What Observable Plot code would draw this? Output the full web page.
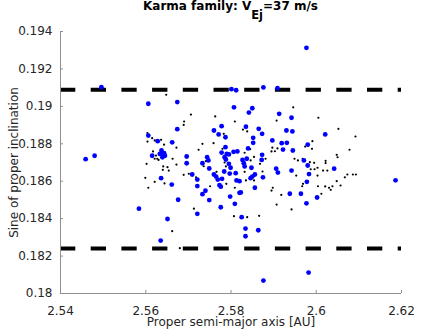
<!DOCTYPE html>
<html>
<head>
<meta charset="utf-8">
<script src="https://cdn.jsdelivr.net/npm/d3@7"></script>
<script src="https://cdn.jsdelivr.net/npm/@observablehq/plot@0.6"></script>
<style>
  html, body { margin: 0; padding: 0; background: white; }
  #wrap { position: relative; width: 443px; height: 332px; overflow: hidden; }
  #title { position: absolute; left: 0; top: 0; width: 461px; text-align: center;
    font-family: "DejaVu Sans", sans-serif; font-weight: bold; font-size: 12px; line-height: 12px; color: #000; white-space: nowrap; }
  #title .sub { position: relative; top: 9px; font-size: 11.5px; }
</style>
</head>
<body>
<div id="wrap">
  <div id="chart"></div>
  <div id="title">Karma family: V<span class="sub">Ej</span>=37 m/s</div>
</div>
<script>
// ---- data (proper semi-major axis [AU], sine of proper inclination) ----
const titleText = "Karma family: V_Ej=37 m/s";
const xLabel = "Proper semi-major axis [AU]";
const yLabel = "Sine of proper inclination";

const xDomain = [2.54, 2.62];
const yDomain = [0.18, 0.194];
const xTicks = [2.54, 2.56, 2.58, 2.60, 2.62];
const xTickLabels = ["2.54", "2.56", "2.58", "2.6", "2.62"];
const yTicks = [0.18, 0.182, 0.184, 0.186, 0.188, 0.19, 0.192, 0.194];
const yTickLabels = ["0.18", "0.182", "0.184", "0.186", "0.188", "0.19", "0.192", "0.194"];

// family boundaries in sin(i)
const limits = [0.19089, 0.18240];

// family members (blue)
const bluePoints = [
  [2.5459, 0.18718], [2.5480, 0.18736], [2.5496, 0.19102], [2.5584, 0.18453],
  [2.5606, 0.19014], [2.5606, 0.18844], [2.5615, 0.18736], [2.5628, 0.18814],
  [2.5633, 0.18746], [2.5635, 0.18283], [2.5636, 0.18616], [2.5637, 0.18764],
  [2.5639, 0.18728], [2.5643, 0.18750], [2.5645, 0.18736], [2.5651, 0.18398],
  [2.5661, 0.18582], [2.5662, 0.18808], [2.5674, 0.19023], [2.5674, 0.18878],
  [2.5676, 0.18501], [2.5696, 0.18732], [2.5696, 0.18696], [2.5709, 0.18636],
  [2.5721, 0.18609], [2.5721, 0.18574], [2.5721, 0.18426], [2.5733, 0.18696],
  [2.5733, 0.18531], [2.5740, 0.18549], [2.5744, 0.18728], [2.5747, 0.18711],
  [2.5749, 0.18668], [2.5749, 0.18499], [2.5760, 0.18871], [2.5771, 0.18850],
  [2.5778, 0.18894], [2.5787, 0.18835], [2.5787, 0.18782], [2.5778, 0.18753],
  [2.5790, 0.18746], [2.5795, 0.18743], [2.5806, 0.18757], [2.5815, 0.18759],
  [2.5785, 0.18728], [2.5788, 0.18716], [2.5795, 0.18693], [2.5799, 0.18672],
  [2.5760, 0.18636], [2.5765, 0.18625], [2.5779, 0.18613], [2.5769, 0.18609],
  [2.5784, 0.18652], [2.5797, 0.18641], [2.5811, 0.18643], [2.5813, 0.18604],
  [2.5820, 0.18600], [2.5773, 0.18579], [2.5776, 0.18571], [2.5798, 0.18518],
  [2.5776, 0.18461], [2.5809, 0.18479], [2.5820, 0.18538], [2.5807, 0.18995],
  [2.5801, 0.19092], [2.5812, 0.19086], [2.5825, 0.18408], [2.5834, 0.18347],
  [2.5834, 0.18306], [2.5864, 0.18338], [2.5876, 0.18069], [2.5827, 0.18714],
  [2.5830, 0.18696], [2.5832, 0.18679], [2.5837, 0.18720], [2.5840, 0.18775],
  [2.5835, 0.18891], [2.5842, 0.18967], [2.5850, 0.18990], [2.5865, 0.18880],
  [2.5873, 0.18853], [2.5852, 0.18832], [2.5852, 0.18805], [2.5873, 0.18741],
  [2.5872, 0.18714], [2.5848, 0.18672], [2.5856, 0.18636], [2.5850, 0.18625],
  [2.5846, 0.18616], [2.5875, 0.18621], [2.5856, 0.18565], [2.5823, 0.18540],
  [2.5876, 0.19101], [2.5897, 0.18818], [2.5913, 0.18960], [2.5942, 0.18939],
  [2.5930, 0.18871], [2.5944, 0.18866], [2.5919, 0.18803], [2.5931, 0.18805],
  [2.5922, 0.18769], [2.5945, 0.18764], [2.5906, 0.18667], [2.5910, 0.18646],
  [2.5942, 0.18657], [2.5938, 0.18533], [2.5964, 0.18533], [2.5909, 0.19097],
  [2.5977, 0.19313], [2.5971, 0.18711], [2.5980, 0.18684], [2.5983, 0.18638],
  [2.5978, 0.18597], [2.5977, 0.18482], [2.6002, 0.18513], [2.5980, 0.18796],
  [2.6021, 0.18850], [2.6042, 0.18667], [2.5982, 0.18112], [2.6186, 0.18605]
];

// background objects (black)
const blackPoints = [
  [2.5648, 0.19062], [2.5706, 0.18956], [2.5690, 0.18919], [2.5689, 0.18901],
  [2.5763, 0.18946], [2.5809, 0.18919], [2.5604, 0.18857], [2.5604, 0.18812],
  [2.5615, 0.18830], [2.5621, 0.18818], [2.5636, 0.18821], [2.5643, 0.18795],
  [2.5672, 0.18779], [2.5617, 0.18759], [2.5624, 0.18737], [2.5621, 0.18720],
  [2.5627, 0.18720], [2.5630, 0.18714], [2.5602, 0.18693], [2.5663, 0.18720],
  [2.5672, 0.18689], [2.5724, 0.18768], [2.5733, 0.18800], [2.5759, 0.18803],
  [2.5741, 0.18707], [2.5783, 0.18853], [2.5780, 0.18773], [2.5785, 0.18700],
  [2.5946, 0.18995], [2.5907, 0.18924], [2.6005, 0.18939], [2.6052, 0.18880],
  [2.6092, 0.18839], [2.5828, 0.18876], [2.5838, 0.18866], [2.5991, 0.18814],
  [2.5974, 0.18785], [2.5981, 0.18789], [2.5990, 0.18773], [2.6078, 0.18768],
  [2.6048, 0.18741], [2.6050, 0.18728], [2.5897, 0.18779], [2.5909, 0.18775],
  [2.5895, 0.18759], [2.5903, 0.18760], [2.5832, 0.18752], [2.5845, 0.18771],
  [2.5854, 0.18730], [2.5881, 0.18720], [2.5846, 0.18711], [2.5868, 0.18693],
  [2.5949, 0.18720], [2.5957, 0.18711], [2.5968, 0.18720], [2.5985, 0.18702],
  [2.5995, 0.18698], [2.6022, 0.18709], [2.6022, 0.18697], [2.5641, 0.18679],
  [2.5651, 0.18675], [2.5640, 0.18661], [2.5654, 0.18657], [2.5599, 0.18618],
  [2.5621, 0.18597], [2.5644, 0.18588], [2.5606, 0.18565], [2.5689, 0.18634],
  [2.5701, 0.18640], [2.5718, 0.18621], [2.5736, 0.18680], [2.5751, 0.18573],
  [2.5766, 0.18650], [2.5788, 0.18679], [2.5789, 0.18586], [2.5809, 0.18565],
  [2.5713, 0.18453], [2.5807, 0.18413], [2.5832, 0.18650], [2.5874, 0.18652],
  [2.5835, 0.18604], [2.5854, 0.18604], [2.5953, 0.18630], [2.5987, 0.18664],
  [2.5996, 0.18664], [2.6003, 0.18672], [2.6003, 0.18630], [2.6016, 0.18657],
  [2.6026, 0.18657], [2.6073, 0.18636], [2.6086, 0.18636], [2.6093, 0.18636],
  [2.6067, 0.18621], [2.6048, 0.18600], [2.6057, 0.18577], [2.6021, 0.18572],
  [2.6030, 0.18565], [2.6034, 0.18554], [2.6012, 0.18533], [2.6004, 0.18573],
  [2.5969, 0.18586], [2.5967, 0.18573], [2.5898, 0.18565], [2.5895, 0.18550],
  [2.5918, 0.18527], [2.5907, 0.18475], [2.5942, 0.18449], [2.5866, 0.18415],
  [2.5838, 0.18408], [2.5662, 0.18333], [2.6038, 0.18573], [2.5680, 0.18242]
];

const axisColor = "#8f8f8f";
const textColor = "#262626";

const chart = Plot.plot({
  width: 443,
  height: 332,
  marginLeft: 60,
  marginRight: 42,
  marginTop: 31,
  marginBottom: 39,
  style: { fontFamily: "DejaVu Sans, sans-serif", fontSize: "12px", color: textColor, background: "white" },
  x: { domain: xDomain },
  y: { domain: yDomain },
  marks: [
    Plot.ruleY(limits, { stroke: "black", strokeWidth: 4, strokeDasharray: "15.3,15.4" }),
    Plot.dot(blackPoints, { x: d => d[0], y: d => d[1], r: 1.1, fill: "black", stroke: "none" }),
    Plot.dot(bluePoints, { x: d => d[0], y: d => d[1], r: 2.4, fill: "#0000ff", stroke: "none" }),
    Plot.ruleX([xDomain[0]], { stroke: axisColor }),
    Plot.ruleY([yDomain[0]], { stroke: axisColor }),
    Plot.axisX(xTicks, {
      tickSize: -3, tickPadding: 15.5, stroke: axisColor, fill: textColor,
      tickFormat: (d, i) => xTickLabels[i], label: null, fontSize: 12
    }),
    Plot.axisY(yTicks, {
      tickSize: -3, tickPadding: 11, stroke: axisColor, fill: textColor,
      tickFormat: (d, i) => yTickLabels[i], label: null, fontSize: 12
    }),
    Plot.text([xLabel], { text: d => d, frameAnchor: "bottom", textAnchor: "middle", dy: 32.5, fill: textColor, fontSize: 12 }),
    Plot.text([yLabel], { text: d => d, frameAnchor: "left", textAnchor: "middle", dx: -46, rotate: -90, fill: textColor, fontSize: 12 })
  ]
});
document.getElementById("chart").appendChild(chart);
</script>
</body>
</html>
